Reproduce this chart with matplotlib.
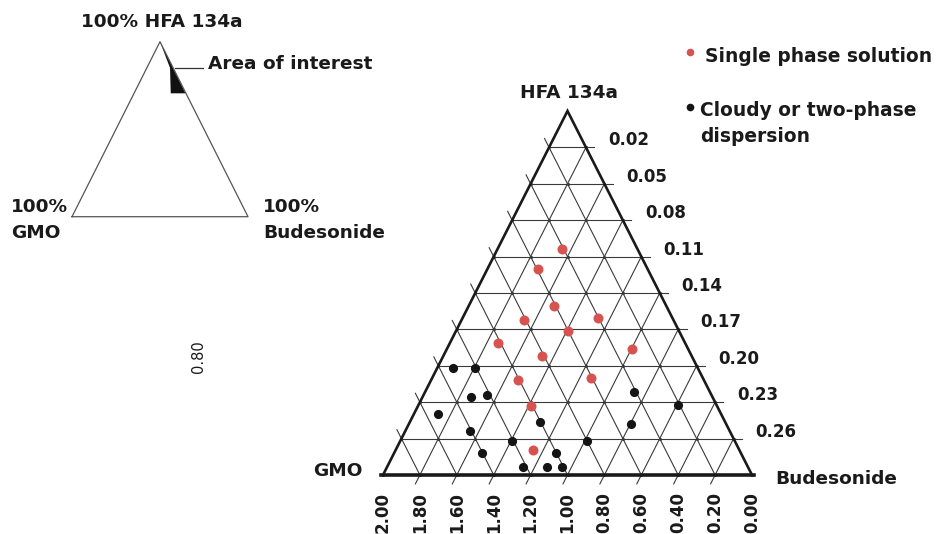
import numpy as np
import matplotlib
matplotlib.use("Agg")
import matplotlib.pyplot as plt

plt.rcParams['font.family'] = ['DejaVu Sans']

# Compositions read on the two scales of the diagram:
# g = bottom scale (lines parallel to the GMO side), r = right scale (horizontal lines)
single_g = [1.652, 1.726, 1.536, 1.662, 1.262, 1.395, 1.740, 0.997, 1.464, 1.526, 1.137, 1.389, 1.257]
single_r = [0.104, 0.120, 0.151, 0.162, 0.161, 0.171, 0.181, 0.186, 0.192, 0.212, 0.210, 0.233, 0.269]

cloudy_g = [1.912, 1.795, 1.738, 1.656, 1.868, 1.298, 0.866, 0.595, 0.796,
            1.651, 1.393, 0.985, 1.526, 1.120, 1.264, 1.134, 1.053]
cloudy_r = [0.202, 0.202, 0.226, 0.224, 0.240, 0.246, 0.222, 0.232, 0.248,
            0.254, 0.262, 0.262, 0.272, 0.272, 0.283, 0.283, 0.283]

right_ticks = [0.02, 0.05, 0.08, 0.11, 0.14, 0.17, 0.20, 0.23, 0.26]
bottom_ticks = [2.00, 1.80, 1.60, 1.40, 1.20, 1.00, 0.80, 0.60, 0.40, 0.20, 0.00]

# schematic: shaded corner of the full diagram (offset, depth from the apex)
area_s = [0.0, 0.114, 0.122, 0.290]
area_t = [0.0, 0.150, 0.295, 0.295]

R_APEX, R_BASE = -0.01, 0.29   # right-scale value at apex and at base
G_MAX = 2.0                    # bottom-scale span
N_DIV = 10

RED = '#d65450'
BLACK = '#141414'
GRID = '#3a3a3a'

W, H = 936, 534
fig = plt.figure(figsize=(W / 100, H / 100), dpi=100)


def fpos(x, y):
    return x / W, 1 - y / H


def to_xy(g, r):
    t = (np.asarray(r, float) - R_APEX) / (R_BASE - R_APEX)
    u = np.asarray(g, float) - (1 - t) * G_MAX / 2
    return u, t


# ---- main ternary diagram ----
ax = fig.add_axes([0, 0, 1, 1])
ax.set_xlim(4.0759, -0.9973)
ax.set_ylim(1.1621, -0.3049)
ax.axis('off')

half = G_MAX / 2
tick_t = 0.0245  # tick length in depth units
for k in range(1, N_DIV):
    t = k / N_DIV
    # horizontal lines, running past the right side as ticks
    ax.plot([half + t * half, half - t * half - 0.045], [t, t], color=GRID, lw=0.8, zorder=1)
    # lines parallel to the left side, running below the base as ticks
    g = bottom_ticks[k]
    ax.plot([g - (1 - t) * half, g + tick_t], [t, 1 + tick_t], color=GRID, lw=0.8, zorder=1)
    # lines parallel to the right side, running past the left side as ticks
    c = half + t * half + t
    t0 = t - tick_t
    ax.plot([c - t0, c - 1], [t0, 1], color=GRID, lw=0.8, zorder=1)

# grid vertices
vu, vt = [], []
for i in range(1, N_DIV + 1):
    t = i / N_DIV
    for j in range(i + 1):
        vu.append(half + t * half - j * G_MAX / N_DIV)
        vt.append(t)
ax.plot(vu, vt, 'o', color=GRID, ms=2.2, mew=0, zorder=1)

# outline
ax.plot([G_MAX, half, 0], [1, 0, 1], color='#1a1a1a', lw=1.9, solid_joinstyle='miter', zorder=2)
ax.plot([G_MAX + 0.01, -0.01], [1, 1], color='#1a1a1a', lw=2.6, zorder=2)

# measured compositions
su, st = to_xy(single_g, single_r)
ax.plot(su, st, 'o', color=RED, ms=7.2, mew=0, zorder=3)
cu, ct = to_xy(cloudy_g, cloudy_r)
ax.plot(cu, ct, 'o', color=BLACK, ms=6.6, mew=0, zorder=3)

# scale labels
for r in right_ticks:
    _, t = to_xy(0, r)
    ax.text(half - t * half - 0.119, t - 0.019, f'{r:.2f}', ha='left', va='center',
            fontsize=12, fontweight='bold', color='#1a1a1a')
for g in bottom_ticks:
    ax.text(g, 1.047, f'{g:.2f}', ha='center', va='top', rotation=90,
            fontsize=12, fontweight='bold', color='#1a1a1a')

lab = dict(fontsize=13.3, fontweight='bold', color='#1a1a1a')
leg = dict(fontsize=13.4, fontweight='bold', color='#1a1a1a')
fig.text(*fpos(569, 93), 'HFA 134a', ha='center', va='center', **lab)
fig.text(*fpos(338, 471), 'GMO', ha='center', va='center', **lab)
fig.text(*fpos(775, 479), 'Budesonide', ha='left', va='center', **lab)

# legend
fig.lines.append(plt.Line2D([690 / W], [1 - 52 / H], marker='o', color=RED, ms=5.5, mew=0,
                            transform=fig.transFigure))
fig.lines.append(plt.Line2D([690 / W], [1 - 107 / H], marker='o', color=BLACK, ms=5.5, mew=0,
                            transform=fig.transFigure))
fig.text(*fpos(705, 57), 'Single phase solution', ha='left', va='center', **leg)
fig.text(*fpos(700, 111), 'Cloudy or two-phase', ha='left', va='center', **leg)
fig.text(*fpos(700, 136), 'dispersion', ha='left', va='center', **leg)

# ---- schematic of the whole diagram ----
ax2 = fig.add_axes([0, 0, 1, 1])
ax2.set_xlim(-1.8182, 8.8182)
ax2.set_ylim(2.8131, -0.2383)
ax2.axis('off')
ax2.plot([-1, 0, 1, -1], [1, 0, 1, 1], color='#555555', lw=0.9)
ax2.fill(area_s, area_t, color='#111111', lw=0)
ax2.plot([0.17, 0.49], [0.152, 0.152], color='#333333', lw=0.9)

fig.text(*fpos(162, 22), '100% HFA 134a', ha='center', va='center', **lab)
fig.text(*fpos(208, 64), 'Area of interest', ha='left', va='center', **lab)
fig.text(*fpos(11, 207), '100%', ha='left', va='center', **lab)
fig.text(*fpos(11, 233), 'GMO', ha='left', va='center', **lab)
fig.text(*fpos(263, 207), '100%', ha='left', va='center', **lab)
fig.text(*fpos(263, 233), 'Budesonide', ha='left', va='center', **lab)

fig.text(*fpos(199, 357), '0.80', ha='center', va='center', rotation=90,
         fontsize=10.5, color='#1a1a1a')

fig.savefig('out.png', dpi=100)
